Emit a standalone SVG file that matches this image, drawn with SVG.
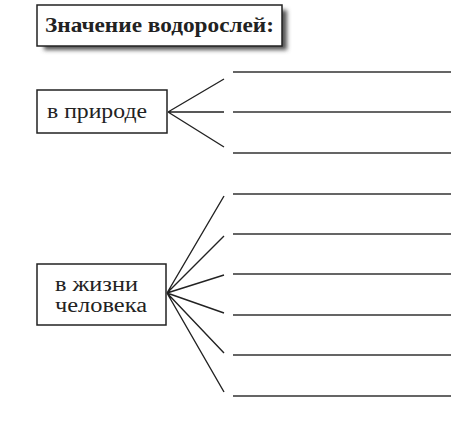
<svg xmlns="http://www.w3.org/2000/svg" width="451" height="422" viewBox="0 0 451 422">
<defs>
<style>
.box{fill:#fff;stroke:#222;stroke-width:1.5}
.t{font-family:"Liberation Serif","DejaVu Serif",serif;fill:#222}
.c{stroke:#222;stroke-width:1.4;fill:none}
.h{stroke:#333;stroke-width:1.6;fill:none}
</style>
<filter id="sh" x="-10%" y="-30%" width="120%" height="160%">
<feGaussianBlur stdDeviation="2.2"/>
</filter>
</defs>
<rect width="451" height="422" fill="#fff"/>
<g id="title">
<rect x="44" y="10" width="243" height="40" fill="#555" filter="url(#sh)"/>
<rect class="box" x="37" y="5" width="245" height="41"/>
<text class="t" x="45" y="32" font-size="21" font-weight="bold" textLength="229" lengthAdjust="spacingAndGlyphs">Значение водорослей:</text>
</g>
<g id="nature">
<rect class="box" x="37" y="90" width="130" height="43"/>
<text class="t" x="47" y="118" font-size="20" textLength="100" lengthAdjust="spacingAndGlyphs">в природе</text>
</g>
<g id="human">
<rect class="box" x="37" y="264" width="129" height="61"/>
<text class="t" x="55" y="291" font-size="20" textLength="83" lengthAdjust="spacingAndGlyphs">в жизни</text>
<text class="t" x="55" y="312" font-size="20" textLength="92" lengthAdjust="spacingAndGlyphs">человека</text>
</g>
<g id="connectors">
<path class="c" d="M168 112L224 79M168 112L224 112M168 112L224 147"/>
<path class="c" d="M167 293L224 196M167 293L224 236M167 293L224 275M167 293L224 313M167 293L224 353M167 293L224 392"/>
</g>
<g id="blanks">
<path class="h" d="M233 72H451M233 112H451M233 153H451"/>
<path class="h" d="M233 194H451M233 234H451M233 274H451M233 315H451M233 355H451M233 396H451"/>
</g>
</svg>
